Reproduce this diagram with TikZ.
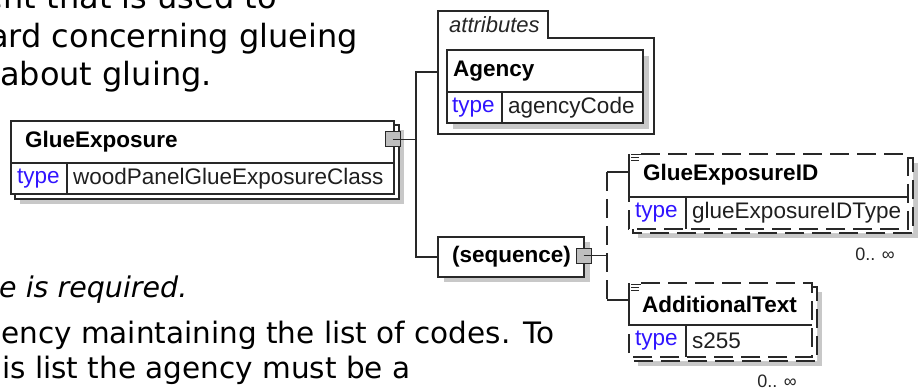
\documentclass[tikz,border=0pt]{standalone}
\usepackage{fontspec}
\setmainfont{DejaVu Sans}
\newfontfamily\dfont{Liberation Sans}
\definecolor{typeblue}{RGB}{48,20,255}
\definecolor{shadowgray}{RGB}{200,200,200}
\definecolor{plusgray}{RGB}{190,190,190}
\definecolor{edge}{RGB}{40,40,40}
\begin{document}
\begin{tikzpicture}[x=1pt,y=-1pt,
  boxline/.style={draw=edge,line width=1.3pt},
  dashline/.style={draw=edge,line width=1.3pt,dash pattern=on 19pt off 8pt},
  conn/.style={draw=edge,line width=1.3pt},
  shadowbox/.style={fill=shadowgray},
  whitebox/.style={fill=white,draw=none,inner sep=0pt,outer sep=0pt,anchor=north west,rectangle},
  bodytop/.style={font=\fontsize{32}{38}\selectfont,inner sep=0pt,text=black},
  body/.style={font=\fontsize{29.5}{35}\selectfont,inner sep=0pt,text=black},
  bodyit/.style={font=\fontsize{28.5}{34}\selectfont\itshape,inner sep=0pt,text=black},
  dtitle/.style={font=\dfont\bfseries\fontsize{22.5}{27}\selectfont,inner sep=0pt,anchor=west,text=black},
  dattr/.style={font=\dfont\itshape\fontsize{22}{26}\selectfont,inner sep=0pt,anchor=west,text=black!85},
  dtype/.style={font=\dfont\fontsize{22.5}{27}\selectfont,inner sep=0pt,anchor=west,text=typeblue},
  dval/.style={font=\dfont\fontsize{22.5}{27}\selectfont,inner sep=0pt,anchor=west,text=black!88},
  card/.style={font=\dfont\fontsize{18}{21}\selectfont,inner sep=0pt,anchor=east,text=black!85},
  plusbox/.style={draw=edge,fill=plusgray,line width=1pt,minimum size=15pt,inner sep=0pt,rectangle}]
\useasboundingbox (0,0) rectangle (918,390);
\clip (0,0) rectangle (918,390);

% ---------- surrounding body text ----------
\node[bodytop,anchor=base east] (t1) at (277,9) {ent that is used to};
\node[bodytop,anchor=base east] (t2) at (358,48) {ard concerning glueing};
\node[bodytop,anchor=base east] (t3) at (212,86) {about gluing.};
\node[bodyit,anchor=base west] (t4) at (-1,297) {e is required.};
\node[body,anchor=base west] (t5) at (1,343) {ency maintaining the list of codes. To};
\node[body,anchor=base west] (t6) at (2,378) {is list the agency must be a};

% ---------- GlueExposure ----------
\fill[shadowbox] (20,130) rectangle (404,204);
\draw[boxline,fill=white] (394,125) -- (399,125) -- (399,199) -- (15,199) -- (15,194);
\node[whitebox,minimum width=383pt,minimum height=73pt] (ge) at (11,121) {};
\draw[boxline] (ge.north west) rectangle (ge.south east);
\draw[boxline] (11,163) -- (394,163);
\draw[boxline] (67,163) -- (67,194);
\node[dtitle] (geT) at (25,142) {GlueExposure};
\node[dtype] (geK) at (17,178.5) {type};
\node[dval] (geV) at (73,178.5) {woodPanelGlueExposureClass};
\node[plusbox] (gep) at (392.5,139.5) {};

% ---------- attributes group ----------
\draw[boxline] (438,11) -- (548,11) -- (548,38) -- (654,38) -- (654,134) -- (438,134) -- cycle;
\node[dattr] (attT) at (449,25) {attributes};
\coordinate (attw) at (438,72);
\fill[shadowbox] (453,56) rectangle (649,129);
\node[whitebox,minimum width=196pt,minimum height=73pt] (ag) at (447,50) {};
\draw[boxline] (ag.north west) rectangle (ag.south east);
\draw[boxline] (447,92) -- (643,92);
\draw[boxline] (502,92) -- (502,123);
\node[dtitle] (agT) at (453,71) {Agency};
\node[dtype] (agK) at (452,107.5) {type};
\node[dval] (agV) at (508,107.5) {agencyCode};

% ---------- sequence ----------
\fill[shadowbox] (444,242) rectangle (590,282);
\node[whitebox,minimum width=146pt,minimum height=40pt] (seq) at (438,237) {};
\draw[boxline] (seq.north west) rectangle (seq.south east);
\node[dtitle] (seqT) at (452,257) {(sequence)};
\node[plusbox] (seqp) at (583.5,255.5) {};

% ---------- GlueExposureID ----------
\fill[shadowbox] (638,163) rectangle (918,238);
\draw[dashline,fill=white] (908,158) -- (913,158) -- (913,233) -- (633,233) -- (633,229);
\node[whitebox,minimum width=279pt,minimum height=75pt] (gid) at (629,154) {};
\draw[dashline] (641,154) -- (908,154) -- (908,229) -- (629,229) -- (629,197);
\draw[boxline] (629,197) -- (629,154);
\draw[edge,line width=1pt] (631,155) -- (641,155) (631,158) -- (639,158) (631,161) -- (639,161);
\draw[boxline] (629,197) -- (908,197);
\draw[boxline] (686,197) -- (686,229);
\node[dtitle] (gidT) at (643,175) {GlueExposureID};
\node[dtype] (gidK) at (635,213) {type};
\node[dval] (gidV) at (692,213) {glueExposureIDType};
\node[card] (gidC) at (895,254) {0.. ∞};
\coordinate (gidin) at (629,172);

% ---------- AdditionalText ----------
\fill[shadowbox] (638,292) rectangle (822,366);
\draw[dashline,fill=white] (812,287) -- (817,287) -- (817,361) -- (633,361) -- (633,357);
\node[whitebox,minimum width=183pt,minimum height=74pt] (at) at (629,283) {};
\draw[dashline] (641,283) -- (812,283) -- (812,357) -- (629,357) -- (629,325);
\draw[boxline] (629,325) -- (629,283);
\draw[edge,line width=1pt] (631,284) -- (641,284) (631,287) -- (639,287) (631,290) -- (639,290);
\draw[boxline] (629,325) -- (812,325);
\draw[boxline] (686,325) -- (686,357);
\node[dtitle] (atT) at (642,304) {AdditionalText};
\node[dtype] (atK) at (635,341) {type};
\node[dval] (atV) at (692,341) {s255};
\node[card] (atC) at (797,381) {0.. ∞};
\coordinate (atin) at (629,300);

% ---------- connectors ----------
\coordinate (j1) at (416,139.5);
\coordinate (j2) at (607,255.5);
\draw[conn] (gep.center) -- (j1);
\draw[conn] (attw) -- (attw -| j1) -- (seq.west -| j1) -- (seq.west);
\draw[conn] (seqp.center) -- (j2);
\draw[conn] (gidin) -- (gidin -| j2);
\draw[dashline] (gidin -| j2) -- (atin -| j2);
\draw[conn] (atin -| j2) -- (atin);
% plus boxes on top of connector starts
\node[plusbox] at (gep.center) {};
\draw[edge,line width=1.3pt] (gep.center) -- (gep.east);
\node[plusbox] at (seqp.center) {};
\draw[edge,line width=1.3pt] (seqp.center) -- (seqp.east);
\end{tikzpicture}
\end{document}
